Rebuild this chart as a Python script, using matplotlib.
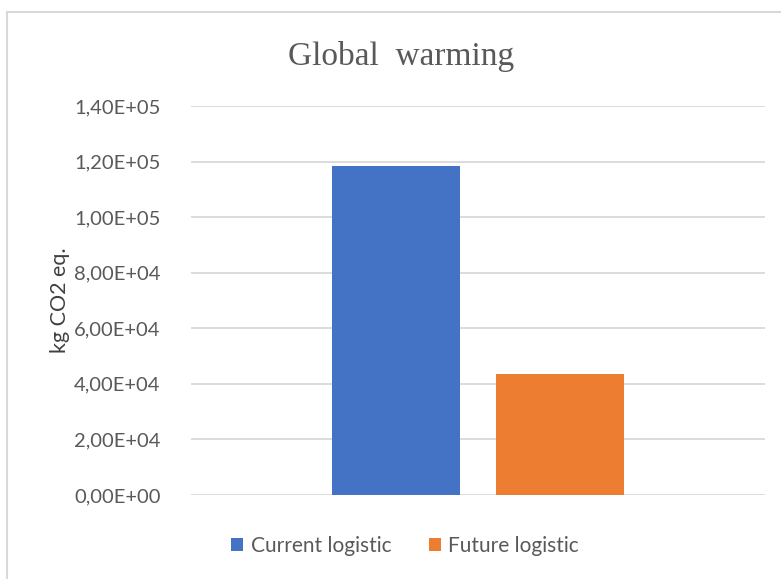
import matplotlib
matplotlib.use('Agg')
import matplotlib.pyplot as plt
from matplotlib.lines import Line2D
from matplotlib.ticker import FuncFormatter

# emissions per logistic scenario
series = ['Current logistic', 'Future logistic']
values = [1.185e5, 4.37e4]
colors = ['#4472C4', '#ED7D31']
yticks = [0, 2e4, 4e4, 6e4, 8e4, 1e5, 1.2e5, 1.4e5]

text_grey = '#595959'
grid_grey = '#d9d9d9'

fig = plt.figure(figsize=(7.81, 5.79), dpi=100)
ax = fig.add_axes([191 / 781, 1 - 495 / 579, 574 / 781, 389 / 579])

width = 0.223
offsets = [-0.1425, 0.1425]
for name, val, col, off in zip(series, values, colors, offsets):
    ax.bar(0.5 + off, val, width=width, color=col, label=name, zorder=3)

ax.set_xlim(0, 1)
ax.set_ylim(0, 1.4e5)
ax.set_yticks(yticks)


def excel_sci(v, pos):
    s = '{:.2E}'.format(v)
    return s.replace('.', ',')


ax.yaxis.set_major_formatter(FuncFormatter(excel_sci))
ax.set_xticks([])
ax.tick_params(axis='y', length=0, pad=22, labelsize=14.5, labelcolor=text_grey)
for lab in ax.get_yticklabels():
    lab.set_fontfamily('Lato')
ax.grid(axis='y', color=grid_grey, linewidth=1.3, zorder=0)
for sp in ax.spines.values():
    sp.set_visible(False)

ax.set_ylabel('kg CO2 eq.', fontsize=15.5, color='#404040', family='Lato')
ax.yaxis.set_label_coords((70 - 191) / 574, 0.5)

fig.text(401 / 781, 1 - 57 / 579, 'Global  warming', ha='center', va='center',
         fontsize=24, color=text_grey, family='Liberation Serif')

fig.legend(loc='center', bbox_to_anchor=(405 / 781, 1 - 546 / 579), ncol=2,
           frameon=False, handlelength=0.6, handleheight=0.6, handletextpad=0.35,
           columnspacing=1.8, prop={'family': 'Lato', 'size': 15},
           labelcolor=text_grey)

# chart area border (top and left edges)
fig.add_artist(Line2D([7 / 781, 1], [1 - 12 / 579, 1 - 12 / 579],
                      transform=fig.transFigure, color=grid_grey, linewidth=1.5))
fig.add_artist(Line2D([7 / 781, 7 / 781], [1 - 12 / 579, 1 - 578 / 579],
                      transform=fig.transFigure, color=grid_grey, linewidth=1.5))

fig.savefig('out.png', dpi=100)
